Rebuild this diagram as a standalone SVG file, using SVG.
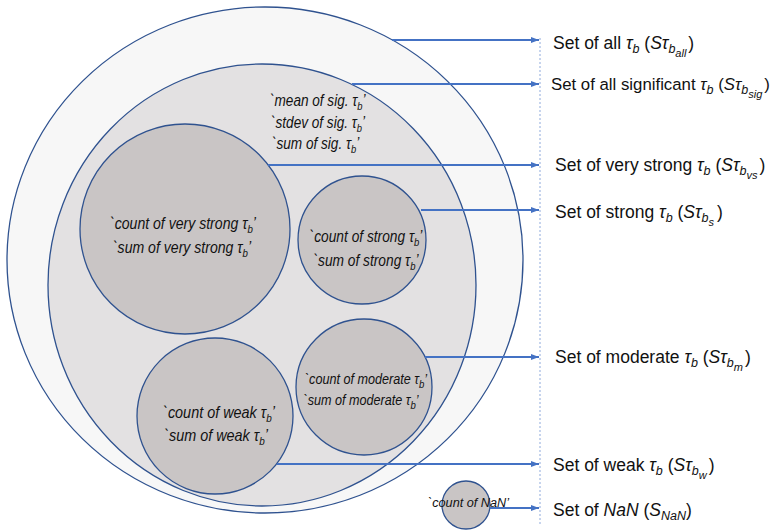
<svg xmlns="http://www.w3.org/2000/svg" width="784" height="531" viewBox="0 0 784 531">
<defs>
<marker id="ah" markerWidth="4" markerHeight="3" refX="4" refY="1.5" orient="auto" markerUnits="strokeWidth">
<path d="M0,0 L4,1.5 L0,3 Z" fill="#4472C4"/>
</marker>
<style>
.c{stroke:#2F528F;stroke-width:1.3}
.outer{fill:#f7f7f7}
.sig{fill:#e3e1e2}
.set{fill:#c9c5c5}
.ar{stroke:#4472C4;stroke-width:2;fill:none;marker-end:url(#ah)}
.dash{stroke:#8FAADC;stroke-width:1;stroke-dasharray:2 2;fill:none}
.lbl{font-family:"Liberation Sans",Arial,sans-serif;font-size:17.5px;fill:#111}
.i{font-style:italic}
.s1{font-size:12.5px}
.s2{font-size:11px}
.ct{font-family:"Liberation Sans",Arial,sans-serif;font-style:italic;font-size:16px;fill:#111}
.cs{font-size:11px}
</style>
</defs>
<rect width="784" height="531" fill="#ffffff"/>
<g id="all"><ellipse class="c outer" cx="265" cy="260" rx="258" ry="253"/></g>
<g id="significant">
<ellipse class="c sig" cx="262" cy="285" rx="214" ry="221"/>
<text class="ct" transform="translate(270,106) scale(0.85,1)">`mean of sig. τ<tspan class="cs" dy="4">b</tspan><tspan dy="-4">’</tspan></text>
<text class="ct" transform="translate(271,128) scale(0.85,1)">`stdev of sig. τ<tspan class="cs" dy="4">b</tspan><tspan dy="-4">’</tspan></text>
<text class="ct" transform="translate(272,149) scale(0.85,1)">`sum of sig. τ<tspan class="cs" dy="4">b</tspan><tspan dy="-4">’</tspan></text>
</g>
<g id="very-strong">
<circle class="c set" cx="185" cy="229" r="105"/>
<text class="ct" text-anchor="middle" transform="translate(183,229) scale(0.88,1)">`count of very strong τ<tspan class="cs" dy="4">b</tspan><tspan dy="-4">’</tspan></text>
<text class="ct" text-anchor="middle" transform="translate(182,253) scale(0.88,1)">`sum of very strong τ<tspan class="cs" dy="4">b</tspan><tspan dy="-4">’</tspan></text>
</g>
<g id="strong">
<circle class="c set" cx="362" cy="240" r="64"/>
<text class="ct" text-anchor="middle" transform="translate(366,242) scale(0.86,1)">`count of strong τ<tspan class="cs" dy="4">b</tspan><tspan dy="-4">’</tspan></text>
<text class="ct" text-anchor="middle" transform="translate(366,266) scale(0.86,1)">`sum of strong τ<tspan class="cs" dy="4">b</tspan><tspan dy="-4">’</tspan></text>
</g>
<g id="moderate">
<circle class="c set" cx="364" cy="387" r="68"/>
<text class="ct" text-anchor="middle" style="font-size:14.5px" transform="translate(366,384) scale(0.87,1)">`count of moderate τ<tspan class="cs" dy="4">b</tspan><tspan dy="-4">’</tspan></text>
<text class="ct" text-anchor="middle" style="font-size:14.5px" transform="translate(361,405) scale(0.87,1)">`sum of moderate τ<tspan class="cs" dy="4">b</tspan><tspan dy="-4">’</tspan></text>
</g>
<g id="weak">
<circle class="c set" cx="215" cy="416" r="78"/>
<text class="ct" text-anchor="middle" transform="translate(219,418) scale(0.9,1)">`count of weak τ<tspan class="cs" dy="4">b</tspan><tspan dy="-4">’</tspan></text>
<text class="ct" text-anchor="middle" transform="translate(216,441) scale(0.9,1)">`sum of weak τ<tspan class="cs" dy="4">b</tspan><tspan dy="-4">’</tspan></text>
</g>
<g id="nan">
<circle class="c set" cx="466" cy="505" r="24"/>
<text class="ct" style="font-size:13.5px" transform="translate(428,507) scale(0.94,1)">`count of NaN’</text>
</g>
<g id="connectors">
<line class="dash" x1="540" y1="38" x2="540" y2="526"/>
<line class="ar" x1="392" y1="40" x2="539" y2="40"/>
<line class="ar" x1="352" y1="84" x2="539" y2="84"/>
<line class="ar" x1="268" y1="165" x2="539" y2="165"/>
<line class="ar" x1="421" y1="210" x2="539" y2="210"/>
<line class="ar" x1="425" y1="357" x2="539" y2="357"/>
<line class="ar" x1="277" y1="464" x2="539" y2="464"/>
<line class="ar" x1="490" y1="508" x2="539" y2="508"/>
</g>
<g id="labels">
<text class="lbl" x="553" y="49">Set of all <tspan class="i">τ</tspan><tspan class="i s1" dy="4">b</tspan><tspan dy="-4"> (</tspan><tspan class="i">Sτ</tspan><tspan class="i s1" dy="4">b</tspan><tspan class="i s2" dy="4">all</tspan><tspan dy="-8" dx="2">)</tspan></text>
<text class="lbl" x="551" y="90" style="font-size:16.8px">Set of all significant <tspan class="i">τ</tspan><tspan class="i s1" dy="4">b</tspan><tspan dy="-4"> (</tspan><tspan class="i">Sτ</tspan><tspan class="i s1" dy="4">b</tspan><tspan class="i s2" dy="4">sig</tspan><tspan dy="-8" dx="2">)</tspan></text>
<text class="lbl" x="555" y="171">Set of very strong <tspan class="i">τ</tspan><tspan class="i s1" dy="4">b</tspan><tspan dy="-4"> (</tspan><tspan class="i">Sτ</tspan><tspan class="i s1" dy="4">b</tspan><tspan class="i s2" dy="4">vs</tspan><tspan dy="-8" dx="2">)</tspan></text>
<text class="lbl" x="555" y="218">Set of strong <tspan class="i">τ</tspan><tspan class="i s1" dy="4">b</tspan><tspan dy="-4"> (</tspan><tspan class="i">Sτ</tspan><tspan class="i s1" dy="4">b</tspan><tspan class="i s2" dy="4">s</tspan><tspan dy="-8" dx="3">)</tspan></text>
<text class="lbl" x="555" y="363">Set of moderate <tspan class="i">τ</tspan><tspan class="i s1" dy="4">b</tspan><tspan dy="-4"> (</tspan><tspan class="i">Sτ</tspan><tspan class="i s1" dy="4">b</tspan><tspan class="i s2" dy="4">m</tspan><tspan dy="-8" dx="2">)</tspan></text>
<text class="lbl" x="553" y="471">Set of weak <tspan class="i">τ</tspan><tspan class="i s1" dy="4">b</tspan><tspan dy="-4"> (</tspan><tspan class="i">Sτ</tspan><tspan class="i s1" dy="4">b</tspan><tspan class="i s2" dy="4">w</tspan><tspan dy="-8" dx="2">)</tspan></text>
<text class="lbl" x="553" y="516">Set of <tspan class="i">NaN</tspan> (<tspan class="i">S</tspan><tspan class="i s1" dy="4">NaN</tspan><tspan dy="-4">)</tspan></text>
</g>
</svg>
